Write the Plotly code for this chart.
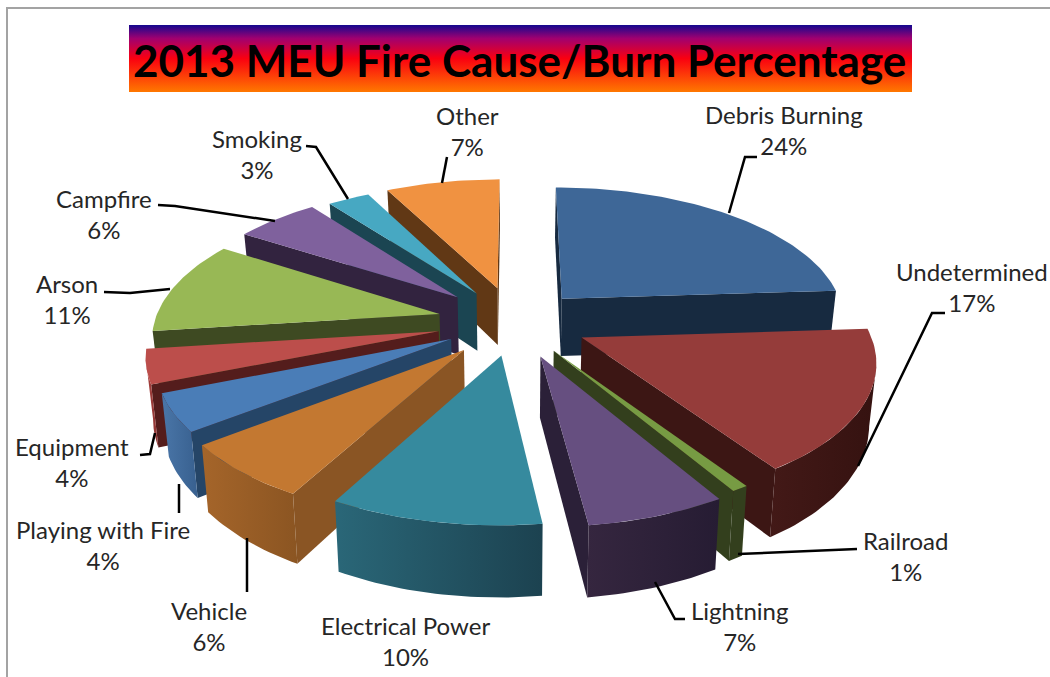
import math
import plotly.graph_objects as go

categories = ["Debris Burning", "Undetermined", "Railroad", "Lightning", "Electrical Power", "Vehicle",
              "Playing with Fire", "Equipment", "Arson", "Campfire", "Smoking", "Other"]
values = [24, 16.6, 0.8, 6.6, 10.0, 6.6, 4.4, 4, 11, 5.6, 2.8, 7.6]
percent_labels = ["24%", "17%", "1%", "7%", "10%", "6%", "4%", "4%", "11%", "6%", "3%", "7%"]
top_colors = ["#3E6797", "#953C3A", "#779B43", "#664F80", "#368A9E", "#C37831",
              "#4A7DB7", "#BC4E4B", "#98B855", "#7F619D", "#47A8C2", "#F09241"]
arc_colors = [("#1B3048", "#15273B"), ("#431917", "#351210"), ("#333F1D", "#333F1D"), ("#35263F", "#261C33"),
              ("#2A6778", "#1C4250"), ("#A5652A", "#8B5522"), ("#4A76A8", "#38608F"), ("#A8423F", "#8C3432"),
              ("#5F7434", "#3E4A22"), ("#32233F", "#32233F"), ("#1B4552", "#1B4552"), ("#613815", "#613815")]
side_colors = ["#172A40", "#3C1614", "#333F1D", "#2B2038", "#1F4A58", "#8A5524",
               "#254567", "#541D1C", "#3E4A22", "#32233F", "#1B4552", "#613815"]
explode = [70, 73, 70, 75, 70, 76, 72, 78, 78, 80, 74, 77]
label_pos = [(784, 130), (972, 287), (905, 556), (739, 626), (405, 641), (209, 626),
             (103, 545), (72, 462), (67, 299), (104, 214), (257, 154), (467, 131)]
leaders = [[(729, 213), (745, 157), (757, 157)], [(858, 466), (932, 313), (945, 313)], [(738, 554), (857, 549)],
           [(655, 582), (675, 619), (685, 619)], [], [(247, 538), (247, 592)], [(179, 484), (179, 513)],
           [(155, 433), (150, 454), (140, 455)], [(170, 289), (130, 293), (104, 292)],
           [(275, 221), (175, 206), (158, 205)], [(348, 199), (316, 147), (306, 146)], [(442, 183), (447, 157)]]

CX, CY, R, TILT, PERSP, DEPTH = 515, 322, 285, 0.47, 0.147, 59


def project(X, Y, z=0.0):
    s = 1 / (1 + PERSP * Y / R)
    return CX + X * s * (1 - 0.02 * z), CY - TILT * Y * s + DEPTH * z * s


total = sum(values)
bounds = [0]
for v in values:
    bounds.append(bounds[-1] + v)

slices = []
for i, v in enumerate(values):
    a0, a1 = [2 * math.pi * b / total for b in (bounds[i], bounds[i + 1])]
    mid = (a0 + a1) / 2
    ox, oy = explode[i] * math.sin(mid), explode[i] * math.cos(mid)
    n = max(4, int(v * 3))
    arc = [(ox + R * math.sin(a0 + (a1 - a0) * k / n), oy + R * math.cos(a0 + (a1 - a0) * k / n)) for k in range(n + 1)]
    slices.append(dict(i=i, mid=mid, apex=(ox, oy), arc=arc))


def poly(points, color=None, grad=None):
    xs = [p[0] for p in points] + [points[0][0]]
    ys = [p[1] for p in points] + [points[0][1]]
    kw = dict(fillcolor=color) if color else dict(fillgradient=grad)
    return go.Scatter(x=xs, y=ys, mode="lines", fill="toself", line=dict(width=0), hoverinfo="skip", **kw)


def wall(p, q):
    return [project(*p), project(*q), project(*q, 1), project(*p, 1)]


def faces_viewer(p, q, inner):
    x0, y0 = project(*p)
    x1, y1 = project(*q)
    xc, yc = project(*inner)
    if abs(x1 - x0) < 1e-6:
        return False
    return yc < y0 + (y1 - y0) * (xc - x0) / (x1 - x0)


fig = go.Figure()

# frame
fig.add_trace(go.Scatter(x=[7, 7, 1050], y=[677, 8, 8], mode="lines", line=dict(color="#A3A3A3", width=2), hoverinfo="skip"))

# title banner
fig.add_trace(go.Scatter(
    x=[129, 912, 912, 129, 129], y=[25, 25, 92, 92, 25], mode="lines", fill="toself", line=dict(width=0), hoverinfo="skip",
    fillgradient=dict(type="vertical", start=25, stop=92,
                      colorscale=[[0, "#14088F"], [0.2, "#A00070"], [0.5, "#FA0010"], [1, "#FF7800"]])))

# slices, back to front
for sl in sorted(slices, key=lambda s: -math.cos(s["mid"])):
    i, apex, arc = sl["i"], sl["apex"], sl["arc"]
    inner = ((apex[0] + arc[len(arc) // 2][0]) / 2, (apex[1] + arc[len(arc) // 2][1]) / 2)
    for rim in (arc[0], arc[-1]):
        if faces_viewer(apex, rim, inner):
            fig.add_trace(poly(wall(apex, rim), color=side_colors[i]))
    vis = [k for k in range(len(arc) - 1) if faces_viewer(arc[k], arc[k + 1], inner)]
    if vis:
        pts = arc[vis[0]: vis[-1] + 2]
        outline = [project(*p) for p in pts] + [project(*p, 1) for p in reversed(pts)]
        fig.add_trace(poly(outline, grad=dict(type="horizontal", colorscale=[[0, arc_colors[i][0]], [1, arc_colors[i][1]]])))
    fig.add_trace(poly([project(*apex)] + [project(*p) for p in arc], color=top_colors[i]))

# leader lines
for path in leaders:
    if path:
        fig.add_trace(go.Scatter(x=[p[0] for p in path], y=[p[1] for p in path], mode="lines",
                                 line=dict(color="#000000", width=2.5), hoverinfo="skip"))

# labels
for name, pct, (x, y) in zip(categories, percent_labels, label_pos):
    fig.add_annotation(x=x, y=y, text=f"{name}<br>{pct}", showarrow=False, xanchor="center", yanchor="middle",
                       font=dict(family="Lato, Carlito, sans-serif", size=24, color="#262626"))

fig.add_annotation(x=519, y=60, text="<b>2013 MEU Fire Cause/Burn Percentage</b>", showarrow=False,
                   font=dict(family="Lato, sans-serif", size=44, color="#000000"))

fig.update_layout(width=1050, height=677, margin=dict(l=0, r=0, t=0, b=0), showlegend=False,
                  paper_bgcolor="#FFFFFF", plot_bgcolor="#FFFFFF",
                  xaxis=dict(range=[0, 1050], visible=False, fixedrange=True),
                  yaxis=dict(range=[677, 0], visible=False, fixedrange=True))
fig.write_html("out.html", config={"displayModeBar": False},
               post_script="document.body.style.margin='0';document.documentElement.style.overflow='hidden';")
